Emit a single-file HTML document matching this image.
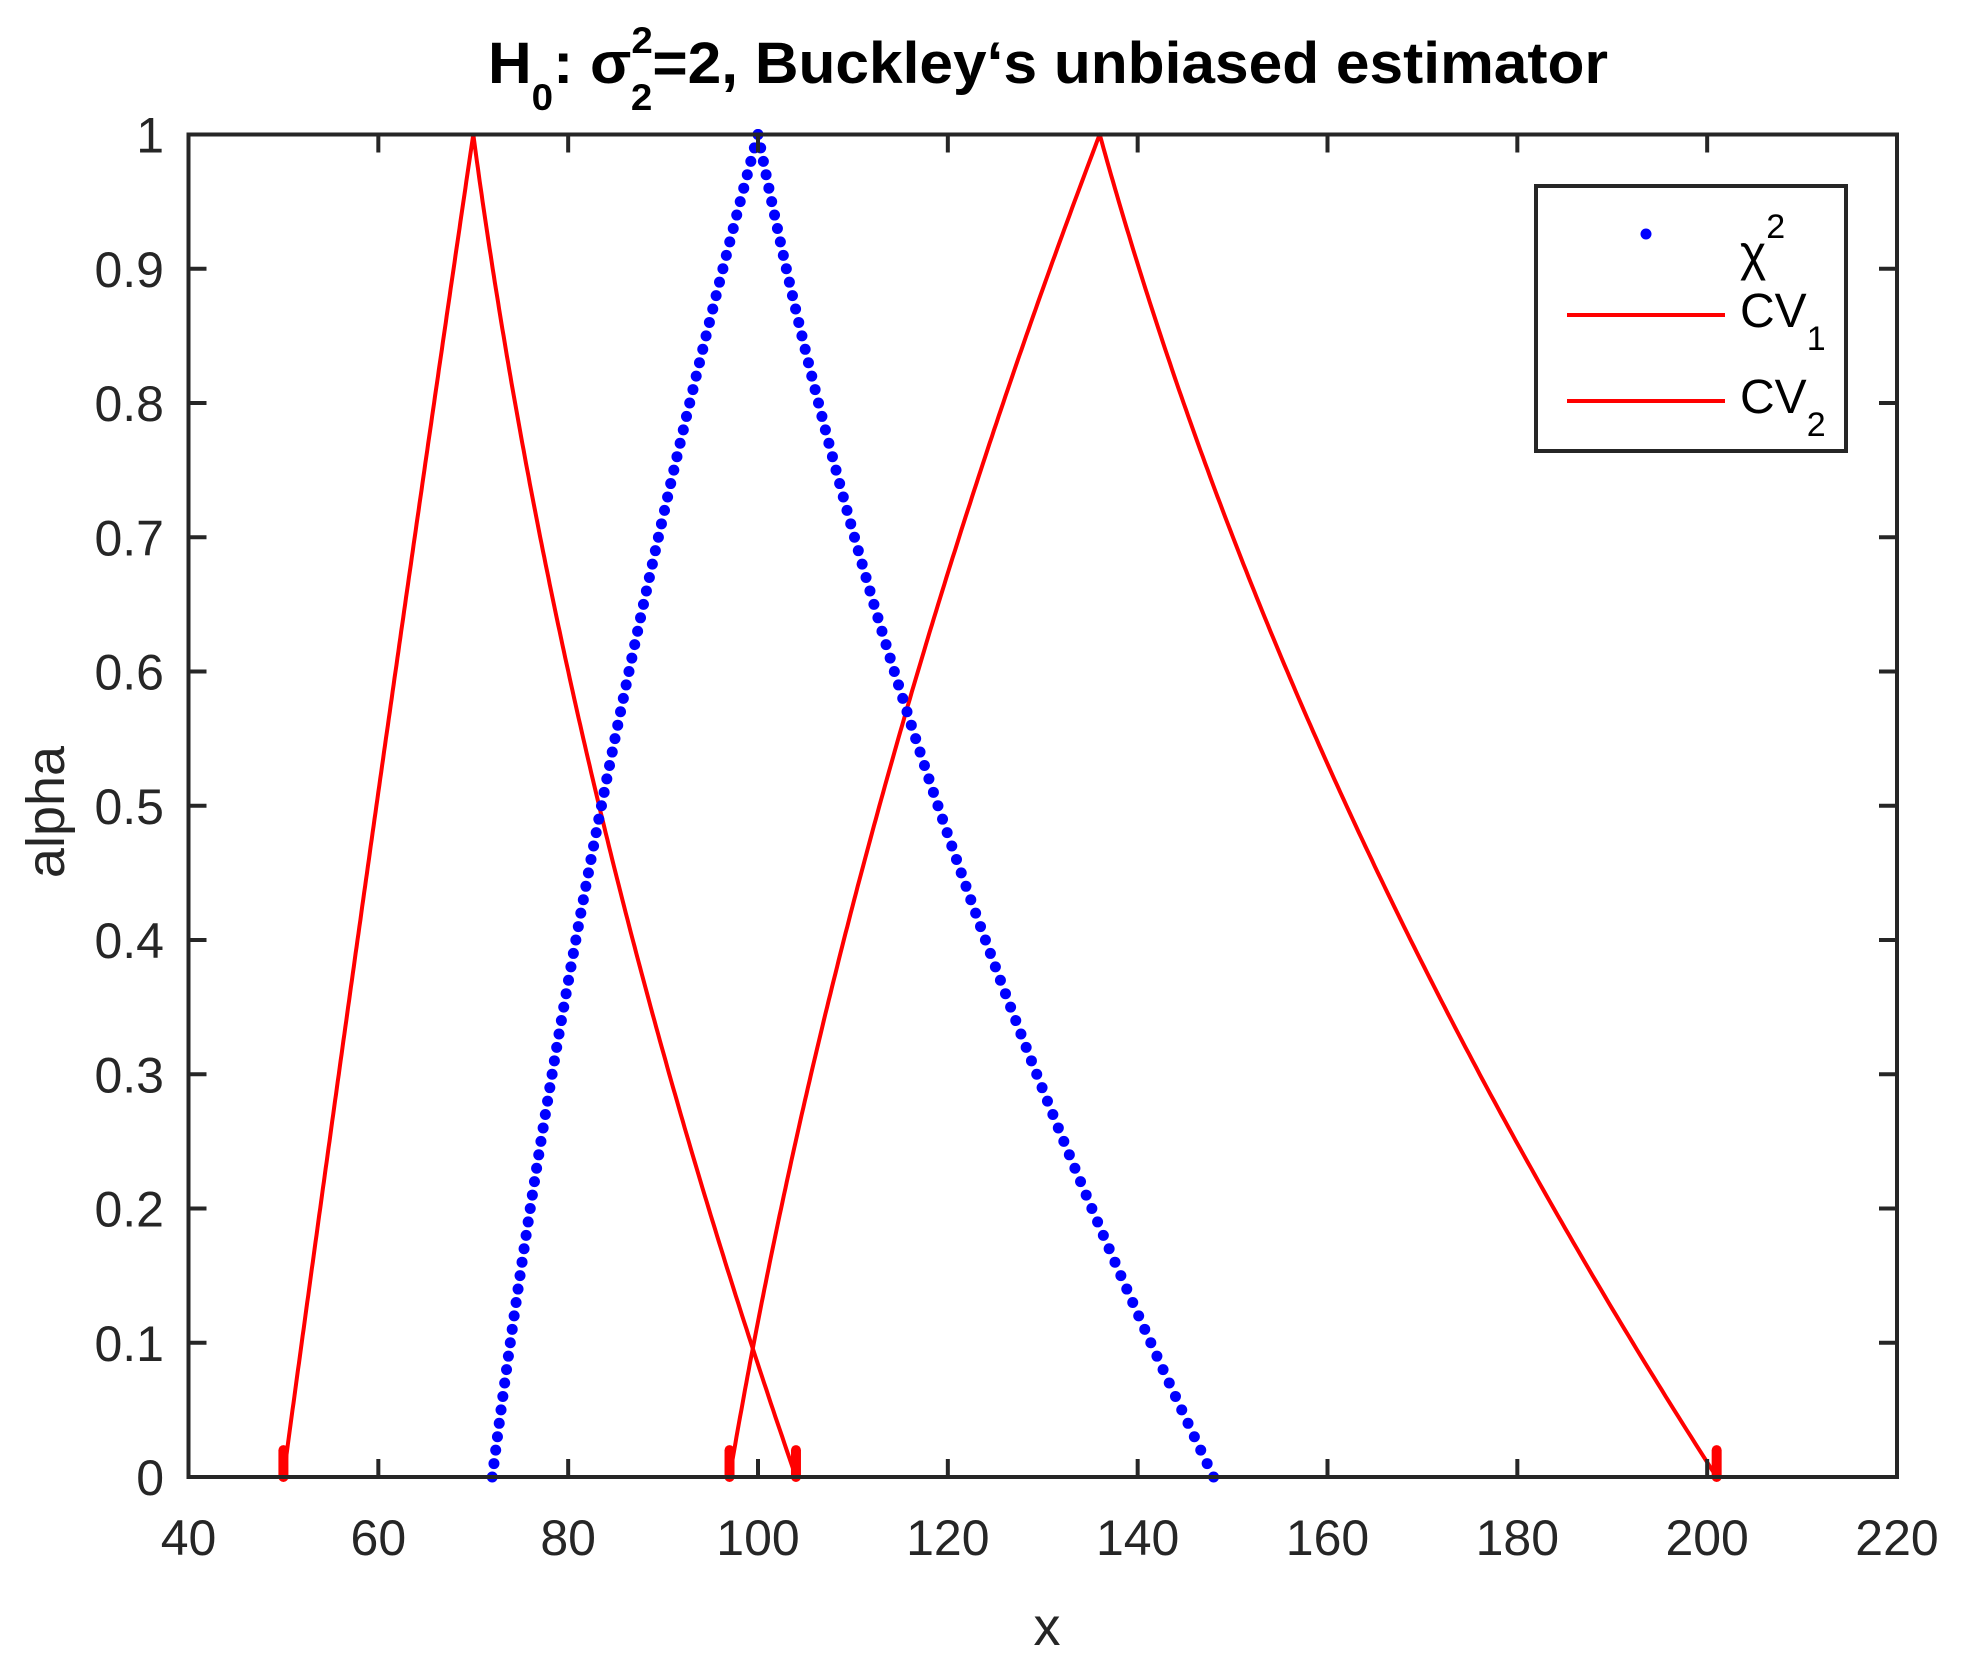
<!DOCTYPE html>
<html><head><meta charset="utf-8"><style>html,body{margin:0;padding:0;background:#fff}svg{display:block}</style></head>
<body>
<svg id="s" width="1964" height="1663" viewBox="0 0 1964 1663" xmlns="http://www.w3.org/2000/svg" font-family="Liberation Sans, Arial, sans-serif">
<rect width="1964" height="1663" fill="#fff"/>
<text x="488" y="83" font-size="58" font-weight="bold" fill="#000" textLength="1120" lengthAdjust="spacingAndGlyphs">H<tspan font-size="37" dy="27">0</tspan><tspan dy="-27">: σ</tspan><tspan font-size="37" dy="-30">2</tspan><tspan font-size="37" dx="-21" dy="57">2</tspan><tspan dy="-27">=2, Buckley‘s unbiased estimator</tspan></text>
<g id="plot"></g>
<g id="axes" stroke="#262626" stroke-width="4" fill="none"></g>
<g id="labels" fill="#262626" font-size="50"></g>
<text x="1047" y="1645" font-size="54" fill="#262626" text-anchor="middle">x</text>
<text transform="translate(64,812) rotate(-90)" font-size="54" fill="#262626" text-anchor="middle">alpha</text>
<rect x="1536" y="186" width="310" height="265" fill="#fff" stroke="#262626" stroke-width="4"/>
<circle cx="1646" cy="234" r="5.5" fill="#0000ff"/>
<text x="1740" y="270" font-size="50" fill="#000">χ<tspan font-size="34" dy="-32">2</tspan></text>
<line x1="1567" y1="315" x2="1725" y2="315" stroke="#ff0000" stroke-width="4"/>
<text x="1740" y="327" font-size="48" fill="#000">CV<tspan font-size="34" dy="23">1</tspan></text>
<line x1="1567" y1="401" x2="1725" y2="401" stroke="#ff0000" stroke-width="4"/>
<text x="1740" y="413" font-size="48" fill="#000">CV<tspan font-size="34" dy="23">2</tspan></text>
</svg>
<script>
var NS="http://www.w3.org/2000/svg";
var L=188.5,R=1897,T=134.5,B=1477;
function X(v){return L+(v-40)*(R-L)/180;}
function Y(a){return B-a*(B-T);}
function el(p,t,at){var e=document.createElementNS(NS,t);for(var k in at)e.setAttribute(k,at[k]);p.appendChild(e);return e;}
var ax=document.getElementById('axes'),lb=document.getElementById('labels');
el(ax,'rect',{x:L,y:T,width:R-L,height:B-T});
for(var v=40;v<=220;v+=20){var x=X(v);
 el(ax,'line',{x1:x,y1:B,x2:x,y2:B-18});el(ax,'line',{x1:x,y1:T,x2:x,y2:T+18});
 var t=el(lb,'text',{x:x,y:1555,'text-anchor':'middle'});t.textContent=v;}
for(var i=0;i<=10;i++){var a=i/10,y=Y(a);
 el(ax,'line',{x1:L,y1:y,x2:L+18,y2:y});el(ax,'line',{x1:R,y1:y,x2:R-18,y2:y});
 var t=el(lb,'text',{x:164,y:y+18,'text-anchor':'end'});t.textContent=(i==0?'0':i==10?'1':a.toFixed(1));}
function left(a0,b,k){return function(a){return b-(b-a0)*(1-a)*(1+k*a);};}
function right(c,b,k){return function(a){return b+(c-b)*(1-a)*(1-k*a);};}
var plot=document.getElementById('plot');
function curve(fl,fr){var pts=[];for(var i=0;i<=200;i++){var a=i/200;pts.push(X(fl(a)).toFixed(1)+','+Y(a).toFixed(1));}
 for(var i=200;i>=0;i--){var a=i/200;pts.push(X(fr(a)).toFixed(1)+','+Y(a).toFixed(1));}
 el(plot,'polyline',{points:pts.join(' '),fill:'none',stroke:'#ff0000','stroke-width':4,'stroke-linejoin':'round'});}
curve(left(50,70,0.04),right(104,70,0.44));
curve(left(97,136,0.38),right(201,136,0.4));
[50,104,97,201].forEach(function(v){el(plot,'line',{x1:X(v),y1:Y(0),x2:X(v),y2:Y(0.02),stroke:'#ff0000','stroke-width':10,'stroke-linecap':'round'});});
var cl=left(72,100,0.356),cr=right(148,100,0.42);
for(var i=0;i<=100;i++){var a=i/100;
 el(plot,'circle',{cx:X(cl(a)),cy:Y(a),r:5.5,fill:'#0000ff'});
 el(plot,'circle',{cx:X(cr(a)),cy:Y(a),r:5.5,fill:'#0000ff'});}
</script>
</body></html>
